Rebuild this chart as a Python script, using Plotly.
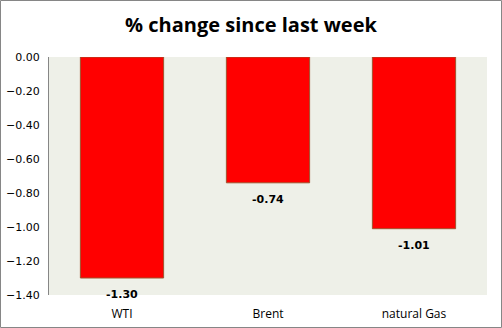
import plotly.graph_objects as go

categories = ["WTI", "Brent", "natural Gas"]
values = [-1.30, -0.74, -1.01]
value_labels = ["-1.30", "-0.74", "-1.01"]
y_ticks = [0, -0.2, -0.4, -0.6, -0.8, -1.0, -1.2, -1.4]

fig = go.Figure()
fig.add_trace(go.Bar(
    x=categories, y=values,
    marker=dict(color="#ff0000", line=dict(color="#a0522d", width=1)),
    width=0.57,
    cliponaxis=False,
))

for c, v, t in zip(categories, values, value_labels):
    fig.add_annotation(x=c, y=v, text="<b>" + t + "</b>", showarrow=False,
                       yanchor="top", yshift=-8,
                       font=dict(family="DejaVu Sans", size=11, color="#000000"))

fig.update_layout(
    width=502, height=328,
    margin=dict(l=49, r=15, t=57, b=33, autoexpand=False),
    paper_bgcolor="white",
    plot_bgcolor="#eef0e8",
    showlegend=False,
    title=dict(text="<b>% change since last week</b>", x=0.5, xanchor="center",
               y=1 - 25/328, yanchor="middle",
               font=dict(family="Open Sans", size=20, color="#000000")),
    xaxis=dict(showgrid=False, showline=False, ticks="outside", ticklen=8,
               tickcolor="rgba(0,0,0,0)", automargin=False,
               tickfont=dict(family="Open Sans", size=12, color="#000000")),
    yaxis=dict(range=[-1.4, 0], tickvals=y_ticks, tickformat=".2f",
               showgrid=False, zeroline=False, showline=True, linecolor="#868686",
               linewidth=1, ticks="", ticklen=0, ticklabelstandoff=6,
               automargin=False,
               tickfont=dict(family="DejaVu Sans", size=11, color="#000000")),
    shapes=[dict(type="rect", xref="paper", yref="paper",
                 x0=-48.5/438, x1=1 + 14.5/438, y0=-32.5/238, y1=1 + 56.5/238,
                 line=dict(color="#868686", width=1))],
    bargap=0.43,
)

fig.write_html("out.html")
